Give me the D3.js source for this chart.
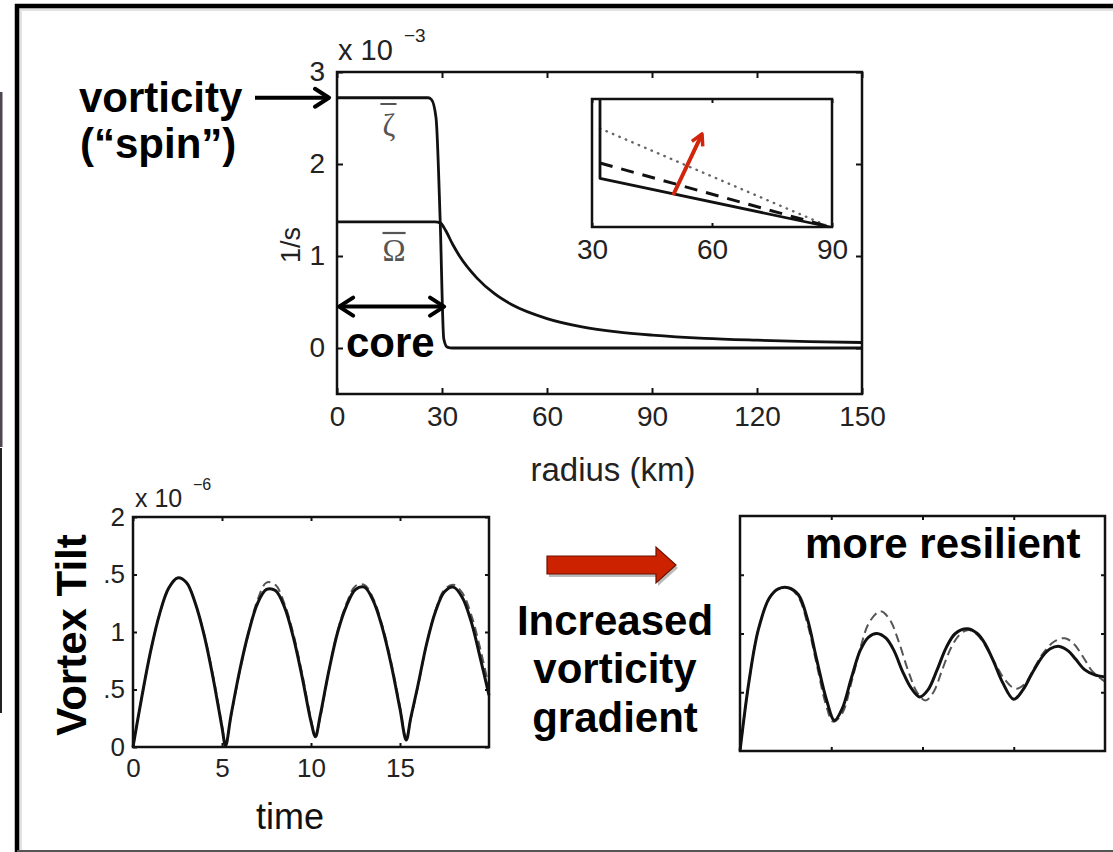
<!DOCTYPE html>
<html>
<head>
<meta charset="utf-8">
<script src="https://cdn.jsdelivr.net/npm/d3@7"></script>
<style>
  body { margin: 0; background: #fff; }
  text { font-family: "Liberation Sans", Arial, sans-serif; }
  .bold { font-weight: bold; fill: #000; }
</style>
</head>
<body>
<svg id="fig" width="1113" height="852"></svg>
<script>
// ---- values ----

// top panel: vorticity profile (x 10^-3 1/s) against radius (km)
var zeta_r     = [0, 10, 20, 26, 27, 28.3, 29.5, 30.5, 31.5, 33, 60, 100, 150];
var zeta_val   = [2.72, 2.72, 2.72, 2.72, 2.70, 2.50, 1.36, 0.10, 0.01, 0, 0, 0, 0];
var omega_r    = [0, 10, 20, 28, 29.5, 31, 33, 35, 40, 45, 50, 60, 70, 80, 90, 105, 120, 135, 150];
var omega_val  = [1.37, 1.37, 1.37, 1.37, 1.36, 1.28, 1.13, 1.0, 0.76, 0.59, 0.47, 0.32, 0.23, 0.175, 0.14, 0.105, 0.085, 0.07, 0.06];
var radius_ticks = [0, 30, 60, 90, 120, 150];
var spin_ticks   = [0, 1, 2, 3];

// inset: outer profiles (arbitrary units)
var inset_solid_r   = [32, 32, 89.5];
var inset_solid     = [1.0, 0.38, 0];
var inset_dashed_r  = [32, 89.5];
var inset_dashed    = [0.5, 0];
var inset_dotted_r  = [32, 89.5];
var inset_dotted    = [0.77, 0];
var inset_ticks     = [30, 60, 90];

// bottom left: vortex tilt (x 10^-6) against time
var tilt_time = [0, 0.5, 1, 1.5, 2, 2.5, 3, 3.5, 4, 4.5, 5, 5.2, 5.5, 6, 6.5, 7, 7.5, 8, 8.5, 9,
                 9.5, 10, 10.25, 10.5, 11, 11.5, 12, 12.5, 13, 13.5, 14, 14.5, 15, 15.35, 15.6, 16, 16.5, 17, 17.5, 18,
                 18.5, 19, 19.5, 20];
var tilt_solid = [0, 0.44, 0.84, 1.16, 1.38, 1.47, 1.43, 1.25, 0.97, 0.60, 0.17, 0.01, 0.27, 0.67, 1.00, 1.25, 1.37, 1.36, 1.22, 0.96,
                  0.61, 0.22, 0.09, 0.26, 0.66, 1.00, 1.23, 1.37, 1.39, 1.27, 1.04, 0.72, 0.33, 0.06, 0.25, 0.53, 0.90, 1.18, 1.35, 1.39,
                  1.30, 1.09, 0.78, 0.45];
var tilt_dashed = [0, 0.44, 0.84, 1.16, 1.38, 1.47, 1.43, 1.25, 0.98, 0.62, 0.19, 0.02, 0.26, 0.66, 1.00, 1.28, 1.43, 1.41, 1.25, 0.99,
                   0.64, 0.24, 0.09, 0.24, 0.66, 1.01, 1.25, 1.40, 1.41, 1.29, 1.06, 0.74, 0.35, 0.07, 0.24, 0.52, 0.90, 1.19, 1.37, 1.41,
                   1.34, 1.15, 0.86, 0.52];
var time_ticks = [0, 5, 10, 15, 20];
var tilt_ticks = [0, 0.5, 1, 1.5, 2];

// bottom right: tilt for the steeper vorticity gradient
var steep_time_solid = [0, 0.5, 1, 1.6, 2.1, 2.65, 3.2, 3.7, 4.2, 4.75, 5.18, 5.6, 6.1, 6.6, 7.05, 7.5, 8.0, 8.45, 8.9, 9.4,
                        9.85, 10.3, 10.8, 11.3, 11.8, 12.45, 13.0, 13.4, 13.9, 14.4, 15.0, 15.5, 16.0, 16.6, 17.0, 17.5, 18.0, 18.4, 18.9, 19.4, 20];
var steep_solid = [0, 0.6, 1.03, 1.30, 1.38, 1.39, 1.33, 1.12, 0.78, 0.43, 0.26, 0.36, 0.62, 0.86, 0.97, 1.00, 0.96, 0.85, 0.68, 0.53,
                   0.46, 0.52, 0.69, 0.88, 1.00, 1.04, 1.00, 0.92, 0.76, 0.58, 0.44, 0.52, 0.66, 0.81, 0.87, 0.89, 0.85, 0.78, 0.69, 0.65, 0.63];
var steep_time_dashed = [0, 0.5, 1, 1.6, 2.1, 2.65, 3.2, 3.7, 4.2, 4.7, 5.1, 5.6, 6.1, 6.6, 7.1, 7.7, 8.2, 8.7, 9.2, 9.7,
                         10.16, 10.6, 11.1, 11.6, 12.1, 12.55, 13.0, 13.5, 14.0, 14.5, 15.1, 15.6, 16.1, 16.6, 17.2, 17.8, 18.3, 18.8, 19.3, 20];
var steep_dashed = [0, 0.6, 1.03, 1.30, 1.38, 1.39, 1.31, 1.08, 0.74, 0.40, 0.25, 0.32, 0.58, 0.88, 1.10, 1.19, 1.12, 0.93, 0.69, 0.50,
                    0.43, 0.50, 0.70, 0.89, 1.00, 1.03, 0.99, 0.88, 0.74, 0.61, 0.53, 0.57, 0.70, 0.83, 0.93, 0.96, 0.91, 0.80, 0.68, 0.59];

var svg = d3.select('#fig');

var defs = svg.append('defs');
defs.append('marker')
  .attr('id', 'chev')
  .attr('viewBox', '0 0 20 24')
  .attr('refX', 17).attr('refY', 12)
  .attr('markerWidth', 20).attr('markerHeight', 24)
  .attr('markerUnits', 'userSpaceOnUse')
  .attr('orient', 'auto-start-reverse')
  .append('path')
  .attr('d', 'M3,3 L17,12 L3,21')
  .attr('fill', 'none')
  .attr('stroke', '#000')
  .attr('stroke-width', 4)
  .attr('stroke-linecap', 'round')
  .attr('stroke-linejoin', 'round');
defs.append('marker')
  .attr('id', 'redhead')
  .attr('viewBox', '0 0 16 16')
  .attr('refX', 12).attr('refY', 8)
  .attr('markerWidth', 16).attr('markerHeight', 16)
  .attr('markerUnits', 'userSpaceOnUse')
  .attr('orient', 'auto')
  .append('path')
  .attr('d', 'M2,2 L13,8 L2,14')
  .attr('fill', 'none')
  .attr('stroke', '#d2260c')
  .attr('stroke-width', 3.5)
  .attr('stroke-linejoin', 'round');

// slide frame and the sliver of the neighbouring slide
svg.append('rect').attr('x', 0).attr('y', 92).attr('width', 2.5).attr('height', 355).attr('fill', '#4e4650');
svg.append('rect').attr('x', 0).attr('y', 448).attr('width', 2).attr('height', 265).attr('fill', '#222');
svg.append('path').attr('d', 'M20.5,852 V9.5 H1113').attr('fill', 'none').attr('stroke', '#e2e2e2').attr('stroke-width', 3);
svg.append('path').attr('d', 'M17,852 V6 H1113').attr('fill', 'none').attr('stroke', '#000').attr('stroke-width', 4.5);
svg.append('line').attr('x1', 17).attr('x2', 1113).attr('y1', 851).attr('y2', 851).attr('stroke', '#555').attr('stroke-width', 2);

// box with inward ticks on all four sides, matlab style
function boxAxes(g, x, y, o) {
  var xr = x.range(), yr = y.range();
  var sides = [
    [d3.axisBottom(x).tickValues(o.xticks), 'translate(0,' + yr[0] + ')', o.xlabels, o.xfmt, o.xpad],
    [d3.axisTop(x).tickValues(o.xticks), 'translate(0,' + yr[1] + ')', false, null, 0],
    [d3.axisLeft(y).tickValues(o.yticks || []), 'translate(' + xr[0] + ',0)', o.ylabels, o.yfmt, o.ypad],
    [d3.axisRight(y).tickValues(o.yticks || []), 'translate(' + xr[1] + ',0)', false, null, 0]
  ];
  sides.forEach(function(s) {
    var ax = s[0].tickSizeInner(-o.tick).tickSizeOuter(0).tickPadding(s[4] || 0);
    if (!s[2]) ax.tickFormat('');
    else if (s[3]) ax.tickFormat(s[3]);
    var a = g.append('g').attr('transform', s[1]).call(ax);
    a.select('.domain').remove();
    a.selectAll('.tick line').attr('stroke', '#111').attr('stroke-width', 2);
    a.selectAll('.tick text')
      .attr('fill', '#222')
      .style('font-family', '"Liberation Sans", Arial, sans-serif')
      .style('font-size', o.font + 'px');
  });
  g.append('rect')
    .attr('x', xr[0]).attr('y', yr[1])
    .attr('width', xr[1] - xr[0]).attr('height', yr[0] - yr[1])
    .attr('fill', 'none').attr('stroke', '#111').attr('stroke-width', o.box);
}

function series(g, x, y, xs, ys, style) {
  var line = d3.line()
    .x(function(d) { return x(d[0]); })
    .y(function(d) { return y(d[1]); })
    .curve(style.curve || d3.curveLinear);
  return g.append('path')
    .datum(d3.zip(xs, ys))
    .attr('d', line)
    .attr('fill', 'none')
    .attr('stroke', style.color || '#111')
    .attr('stroke-width', style.width || 2.5)
    .attr('stroke-dasharray', style.dash || null)
    .attr('stroke-linecap', style.cap || 'butt')
    .attr('stroke-linejoin', 'round');
}

// ---------- top panel ----------
var profile = svg.append('g');
var rx = d3.scaleLinear().domain([0, 150]).range([337, 862]);
var ry = d3.scaleLinear().domain([-0.5, 3]).range([394, 72]);

series(profile, rx, ry, omega_r, omega_val, { width: 2.8, curve: d3.curveMonotoneX });
series(profile, rx, ry, zeta_r, zeta_val, { width: 2.8, curve: d3.curveMonotoneX });
boxAxes(profile, rx, ry, { xticks: radius_ticks, yticks: spin_ticks, xlabels: true, ylabels: true,
  tick: 6, xpad: 12, ypad: 12, font: 28, box: 2.5, xfmt: d3.format('d'), yfmt: d3.format('d') });

profile.append('text').attr('x', 338).attr('y', 60).attr('fill', '#222').style('font-size', '29px').text('x 10');
profile.append('text').attr('x', 404).attr('y', 42).attr('fill', '#222').style('font-size', '19px').text('\u22123');
profile.append('text').attr('transform', 'translate(300,245) rotate(-90)').attr('text-anchor', 'middle')
  .attr('fill', '#222').style('font-size', '27px').text('1/s');
profile.append('text').attr('x', 613).attr('y', 481).attr('text-anchor', 'middle')
  .attr('fill', '#222').style('font-size', '33px').text('radius (km)');

// curve names
profile.append('text').attr('x', rx(14.8)).attr('y', 136).attr('text-anchor', 'middle')
  .attr('fill', '#555').style('font-family', '"Liberation Serif", serif').style('font-size', '31px').text('\u03b6');
profile.append('line').attr('x1', rx(12.4)).attr('x2', rx(17.0)).attr('y1', 104).attr('y2', 104).attr('stroke', '#555').attr('stroke-width', 2);
profile.append('text').attr('x', rx(16.3)).attr('y', 261).attr('text-anchor', 'middle')
  .attr('fill', '#555').style('font-family', '"Liberation Serif", serif').style('font-size', '31px').text('\u03a9');
profile.append('line').attr('x1', rx(13.0)).attr('x2', rx(19.6)).attr('y1', 233).attr('y2', 233).attr('stroke', '#555').attr('stroke-width', 2.2);

// core span arrow
profile.append('line')
  .attr('x1', rx(0.6)).attr('x2', rx(30.6)).attr('y1', ry(0.45)).attr('y2', ry(0.45))
  .attr('stroke', '#000').attr('stroke-width', 4)
  .attr('marker-start', 'url(#chev)').attr('marker-end', 'url(#chev)');
profile.append('text').attr('class', 'bold').attr('x', 346).attr('y', 357).style('font-size', '42px').text('core');

// vorticity callout
svg.append('text').attr('class', 'bold').attr('x', 79).attr('y', 112).style('font-size', '42px').text('vorticity');
svg.append('text').attr('class', 'bold').attr('x', 80).attr('y', 158).style('font-size', '42px').text('(\u201cspin\u201d)');
svg.append('line').attr('x1', 255).attr('x2', 329).attr('y1', ry(2.72)).attr('y2', ry(2.72))
  .attr('stroke', '#000').attr('stroke-width', 4).attr('marker-end', 'url(#chev)');

// ---------- inset ----------
var inset = svg.append('g');
var ix = d3.scaleLinear().domain([30, 90]).range([592, 832]);
var iy = d3.scaleLinear().domain([0, 1]).range([227, 99]);
inset.append('rect').attr('x', 592).attr('y', 99).attr('width', 240).attr('height', 128).attr('fill', '#fff');
series(inset, ix, iy, inset_dotted_r, inset_dotted, { color: '#666', width: 2.4, dash: '0.5,6.5', cap: 'round' });
series(inset, ix, iy, inset_dashed_r, inset_dashed, { width: 3, dash: '13,9' });
series(inset, ix, iy, inset_solid_r, inset_solid, { width: 2.8 });
boxAxes(inset, ix, iy, { xticks: inset_ticks, yticks: [], xlabels: true, ylabels: false,
  tick: 4, xpad: 12, font: 28, box: 2.5, xfmt: d3.format('d') });
inset.append('line')
  .attr('x1', ix(50.3)).attr('y1', iy(0.25)).attr('x2', ix(57.4)).attr('y2', iy(0.72))
  .attr('stroke', '#d2260c').attr('stroke-width', 4).attr('marker-end', 'url(#redhead)');

// ---------- bottom left ----------
var bl = svg.append('g');
var tx = d3.scaleLinear().domain([0, 20]).range([133, 489]);
var ty = d3.scaleLinear().domain([0, 2]).range([747, 517]);
series(bl, tx, ty, tilt_time, tilt_dashed, { color: '#555', width: 2, dash: '9,5', curve: d3.curveCatmullRom });
series(bl, tx, ty, tilt_time, tilt_solid, { width: 3, curve: d3.curveCatmullRom });
boxAxes(bl, tx, ty, { xticks: time_ticks.slice(0, 4), yticks: tilt_ticks, xlabels: true, ylabels: true,
  tick: 4, xpad: 12, ypad: 8, font: 26, box: 2.5, xfmt: d3.format('d'), yfmt: d3.format('') });
bl.append('text').attr('x', 135).attr('y', 507).attr('fill', '#222').style('font-size', '25px').text('x 10');
bl.append('text').attr('x', 193).attr('y', 490).attr('fill', '#222').style('font-size', '16px').text('\u22126');
bl.append('text').attr('x', 290).attr('y', 829).attr('text-anchor', 'middle')
  .attr('fill', '#111').style('font-size', '36px').text('time');
// text box of the slide label hides the leading digits of 1.5 and 0.5
bl.append('rect').attr('x', 48).attr('y', 535).attr('width', 56.5).attr('height', 210).attr('fill', '#fff');
bl.append('text').attr('class', 'bold').attr('transform', 'translate(86,635) rotate(-90)')
  .attr('text-anchor', 'middle').style('font-size', '42px').text('Vortex Tilt');

// ---------- bottom right ----------
var br = svg.append('g');
var sx = d3.scaleLinear().domain([0, 20]).range([740, 1105]);
var sy = d3.scaleLinear().domain([0, 2]).range([751, 516]);
series(br, sx, sy, steep_time_dashed, steep_dashed, { color: '#555', width: 2, dash: '9,5', curve: d3.curveCatmullRom });
series(br, sx, sy, steep_time_solid, steep_solid, { width: 3, curve: d3.curveCatmullRom });
boxAxes(br, sx, sy, { xticks: time_ticks.slice(1, 4), yticks: tilt_ticks.slice(1, 4), xlabels: false, ylabels: false,
  tick: 4, font: 25, box: 2.5 });
br.append('text').attr('class', 'bold').attr('x', 805).attr('y', 558).style('font-size', '42px').text('more resilient');

// ---------- middle annotation ----------
var mid = svg.append('g');
var blockArrow = 'M547,556 H656 V547 L676,565 L656,583 V574 H547 Z';
mid.append('path').attr('d', blockArrow).attr('transform', 'translate(2,3)').attr('fill', '#bbb');
mid.append('path').attr('d', blockArrow).attr('fill', '#cc2200').attr('stroke', '#6b1200').attr('stroke-width', 1.2);
[['Increased', 635], ['vorticity', 683], ['gradient', 732]].forEach(function(t) {
  mid.append('text').attr('class', 'bold').attr('x', 615).attr('y', t[1])
    .attr('text-anchor', 'middle').style('font-size', '42px').text(t[0]);
});
</script>
</body>
</html>
